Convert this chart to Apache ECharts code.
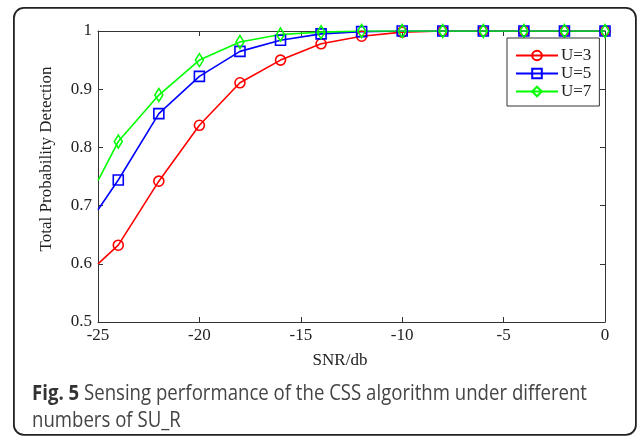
<!DOCTYPE html>
<html>
<head>
<meta charset="utf-8">
<script src="https://cdn.jsdelivr.net/npm/echarts@6/dist/echarts.min.js"></script>
<style>
html,body{margin:0;padding:0;background:#fff;}
#chart{width:637px;height:438px;}
</style>
</head>
<body>
<div id="chart"></div>
<script>
// ---- data ----
var snr = [-25, -24, -22, -20, -18, -16, -14, -12, -10, -8, -6, -4, -2, 0];
var u3 = [0.600, 0.632, 0.742, 0.838, 0.911, 0.950, 0.978, 0.991, 0.998, 1, 1, 1, 1, 1];
var u5 = [0.693, 0.744, 0.858, 0.922, 0.965, 0.984, 0.995, 0.999, 1, 1, 1, 1, 1, 1];
var u7 = [0.743, 0.810, 0.890, 0.950, 0.981, 0.994, 0.998, 1, 1, 1, 1, 1, 1, 1];
var seriesNames = ['U=3', 'U=5', 'U=7'];
var xTicks = [-25, -20, -15, -10, -5, 0];
var yTicks = [0.5, 0.6, 0.7, 0.8, 0.9, 1];
var xLabel = 'SNR/db';
var yLabel = 'Total Probability Detection';
var captionBold = 'Fig. 5';
var captionLine1 = ' Sensing performance of the CSS algorithm under different';
var captionLine2 = 'numbers of SU_R';

function pairs(ys) {
  return snr.map(function (x, i) {
    var d = { value: [x, ys[i]] };
    if (i === 0) d.symbol = 'none';
    return d;
  });
}

// measure caption to mimic condensed font
var cv = document.createElement('canvas').getContext('2d');
cv.font = 'bold 21px "Open Sans"';
var wB = cv.measureText(captionBold).width;
cv.font = '21px "Open Sans"';
var wR = cv.measureText(captionLine1).width;
var capScale = 555 / (wB + wR);

var chart = echarts.init(document.getElementById('chart'));
var axisColor = '#333';
var serif = '"Liberation Serif", "Times New Roman", serif';

function mkSeries(name, ys, color, symbol, size) {
  return {
    name: name,
    type: 'line',
    data: pairs(ys),
    symbol: symbol,
    symbolSize: size,
    showAllSymbol: true,
    lineStyle: { color: color, width: 1.6 },
    itemStyle: { color: 'rgba(255,255,255,0)', borderColor: color, borderWidth: 1.6 },
    emphasis: { disabled: true },
    z: 3
  };
}

chart.setOption({
  backgroundColor: '#fff',
  animation: false,
  grid: { left: 98, right: 32, top: 31, bottom: 116, containLabel: false },
  legend: {
    orient: 'vertical',
    left: 507,
    top: 38,
    padding: [9, 8, 6, 8],
    itemWidth: 42,
    itemHeight: 12,
    itemGap: 1,
    backgroundColor: '#fff',
    borderColor: axisColor,
    borderWidth: 1,
    borderRadius: 0,
    textStyle: { fontFamily: serif, fontSize: 17, color: '#222', padding: [0, 0, 0, -2] },
    data: seriesNames
  },
  xAxis: [{
    type: 'value', min: -25, max: 0, interval: 5,
    name: xLabel, nameLocation: 'middle', nameGap: 30,
    nameTextStyle: { fontFamily: serif, fontSize: 17, color: '#222', padding: [0, 23, 0, 0] },
    axisLine: { show: true, onZero: false, lineStyle: { color: axisColor, width: 1 } },
    axisTick: { show: true, inside: true, length: 5, lineStyle: { color: axisColor } },
    axisLabel: { fontFamily: serif, fontSize: 17, color: '#222', margin: 5 },
    splitLine: { show: false }
  }, {
    type: 'value', min: -25, max: 0, interval: 5, position: 'top',
    axisLine: { show: true, onZero: false, lineStyle: { color: axisColor, width: 1 } },
    axisTick: { show: true, inside: true, length: 5, lineStyle: { color: axisColor } },
    axisLabel: { show: false },
    splitLine: { show: false }
  }],
  yAxis: [{
    type: 'value', min: 0.5, max: 1, interval: 0.1,
    name: yLabel, nameLocation: 'middle', nameGap: 43,
    nameTextStyle: { fontFamily: serif, fontSize: 17, color: '#222', padding: [0, 0, 0, 35] },
    axisLine: { show: true, onZero: false, lineStyle: { color: axisColor, width: 1 } },
    axisTick: { show: true, inside: true, length: 5, lineStyle: { color: axisColor } },
    axisLabel: { fontFamily: serif, fontSize: 17, color: '#222', margin: 6 },
    splitLine: { show: false }
  }, {
    type: 'value', min: 0.5, max: 1, interval: 0.1, position: 'right',
    axisLine: { show: true, onZero: false, lineStyle: { color: axisColor, width: 1 } },
    axisTick: { show: true, inside: true, length: 5, lineStyle: { color: axisColor } },
    axisLabel: { show: false },
    splitLine: { show: false }
  }],
  series: [
    mkSeries(seriesNames[0], u3, '#ff0000', 'circle', 10),
    mkSeries(seriesNames[1], u5, '#0000ff', 'rect', 10),
    mkSeries(seriesNames[2], u7, '#00ff00', 'diamond', [8, 13])
  ],
  graphic: [
    {
      type: 'rect', left: 13, top: 7, z: -1, silent: true,
      shape: { width: 622, height: 427, r: 10 },
      style: { fill: 'rgba(0,0,0,0)', stroke: '#222', lineWidth: 1.8 }
    },
    {
      type: 'text', x: 32, y: 384, scaleX: capScale, silent: true,
      style: {
        text: '{b|' + captionBold + '}{r|' + captionLine1 + '}',
        rich: {
          b: { fontFamily: '"Open Sans"', fontWeight: 'bold', fontSize: 21, fill: '#333' },
          r: { fontFamily: '"Open Sans"', fontSize: 21, fill: '#444' }
        }
      }
    },
    {
      type: 'text', x: 32, y: 411, scaleX: capScale, silent: true,
      style: { text: captionLine2, fontFamily: '"Open Sans"', fontSize: 21, fill: '#444' }
    }
  ]
});
</script>
</body>
</html>
